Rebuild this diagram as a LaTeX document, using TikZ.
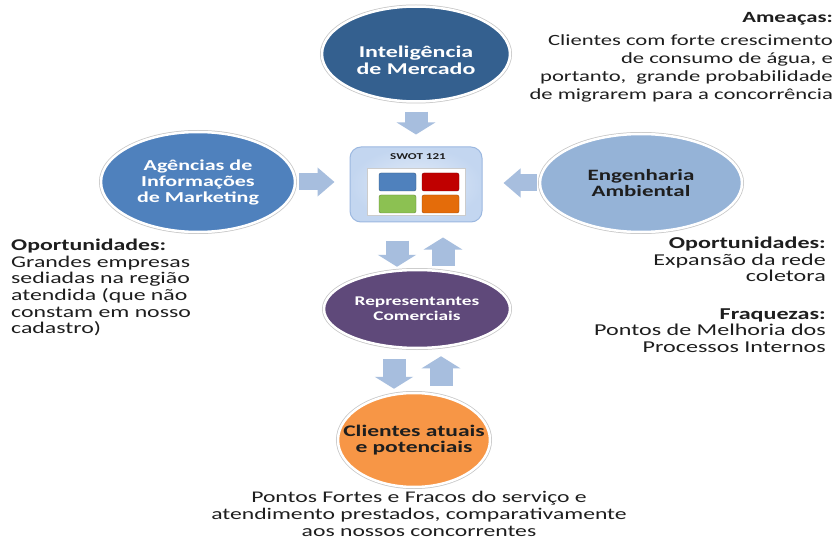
\documentclass[tikz,border=0pt]{standalone}
\usepackage{fontspec}
\setmainfont[FakeStretch=1.45]{Carlito}
\usetikzlibrary{arrows.meta}
\usetikzlibrary{shapes.geometric}

\definecolor{intelblue}{HTML}{34608F}
\definecolor{agblue}{HTML}{4F81BD}
\definecolor{engblue}{HTML}{95B3D7}
\definecolor{reppurple}{HTML}{5F497A}
\definecolor{cliorange}{HTML}{F79646}
\definecolor{arrowblue}{HTML}{A7BEDE}
\definecolor{txtgray}{HTML}{1E1E1E}
\definecolor{swotfill}{HTML}{C3D6F0}
\definecolor{swotline}{HTML}{9CB8E0}
\definecolor{qblue}{HTML}{4F81BD}
\definecolor{qred}{HTML}{C00000}
\definecolor{qgreen}{HTML}{8CC152}
\definecolor{qorange}{HTML}{E46C0A}

\begin{document}
\begin{tikzpicture}[x=1pt,y=-1pt,
    bubble/.style={ellipse, inner sep=0pt, draw=white, line width=2.5pt,
      preaction={draw=gray!45, line width=4pt}},
    bubbletext/.style={align=center, inner sep=0pt},
    vblock/.style={arrowblue, line width=23pt, -{Triangle[length=12pt 0 0, width=38pt 0 0]}},
    hblock/.style={arrowblue, line width=17pt, -{Triangle[length=17pt 0 0, width=28pt 0 0]}},
    note/.style={text=txtgray, inner sep=0pt}]

    \useasboundingbox[fill=white] (0,0) rectangle (835,540);

    % ellipses
    \node[bubble, fill=intelblue, minimum width=188, minimum height=95] (intel) at (416,54) {};
    \node[bubble, fill=agblue, minimum width=194, minimum height=100] (ag) at (198,182) {};
    \node[bubble, fill=engblue, minimum width=202, minimum height=98] (eng) at (641,183) {};
    \node[bubble, fill=reppurple, minimum width=186, minimum height=78] (rep) at (417,309) {};
    \node[bubble, fill=cliorange, minimum width=152, minimum height=94] (cli) at (414,440) {};

    % ellipse labels
    \node[bubbletext, text=white, font=\bfseries\fontsize{16.5}{17}\selectfont] (intelt) at ([yshift=-6pt]intel.center) {Inteligência\\de Mercado};
    \node[bubbletext, text=white, font=\bfseries\fontsize{15.2}{16}\selectfont] (agt) at (ag.center) {Agências de\\Informações\\de Marketing};
    \node[bubbletext, text=txtgray, font=\bfseries\fontsize{15.8}{15.5}\selectfont] (engt) at (eng.center) {Engenharia\\Ambiental};
    \node[bubbletext, text=white, font=\bfseries\fontsize{13.3}{15}\selectfont] (rept) at (rep.center) {Representantes\\Comerciais};
    \node[bubbletext, text=txtgray, font=\bfseries\fontsize{16.2}{16}\selectfont] (clit) at (cli.center) {Clientes atuais\\e potenciais};

    % swot box
    \node[draw=swotline, line width=1pt, rounded corners=11pt, inner color=swotfill!45, outer color=swotfill,
      minimum width=132, minimum height=75] (swot) at (416,184.5) {};
    \node[note, font=\bfseries\fontsize{9}{9}\selectfont] (swott) at (418,157) {SWOT 121};
    \draw[fill=white, draw=gray!40] (367,168) rectangle (465,215);
    \foreach \qx/\qy/\qc in {379/173/qblue, 422/173/qred, 379/195/qgreen, 422/195/qorange}
      \draw[fill=\qc, draw=\qc!70!black, rounded corners=2pt] (\qx,\qy) rectangle ++(37,18);

    % block arrows
    \draw[vblock] ([yshift=-9pt]intel.south) -- ([yshift=12pt]swot.north);
    \draw[hblock] ([xshift=3pt]ag.east) -- ([xshift=-15pt]swot.west |- ag.east);
    \draw[hblock] ([xshift=-2pt]eng.west) -- ([xshift=21pt]swot.east |- eng.west);
    \draw[vblock] ([xshift=-19pt,yshift=-18pt]swot.south) -- ([xshift=-19pt,yshift=2pt]swot.south |- rep.north);
    \draw[vblock] ([xshift=27pt,yshift=3pt]swot.south |- rep.north) -- ([xshift=27pt,yshift=-15pt]swot.south);
    \draw[vblock] ([xshift=-23pt,yshift=-10pt]rep.south) -- ([xshift=-23pt,yshift=3pt]rep.south |- cli.north);
    \draw[vblock] ([xshift=24pt,yshift=6pt]rep.south |- cli.north) -- ([xshift=24pt,yshift=-7pt]rep.south);

    % notes
    \node[note, anchor=north east, align=right, font=\fontsize{15.6}{18}\selectfont] (threat) at (833,12)
      {\textbf{Ameaças:}\\[5pt]Clientes com forte crescimento\\de consumo de água, e\\portanto,\ \ grande probabilidade\\de migrarem para a concorrência};
    \node[note, anchor=north west, align=left, font=\fontsize{16.4}{16.6}\selectfont] (opleft) at (11,239)
      {\textbf{Oportunidades:}\\Grandes empresas\\sediadas na região\\atendida (que não\\constam em nosso\\cadastro)};
    \node[note, anchor=north east, align=right, font=\fontsize{16.6}{16.5}\selectfont] (opright) at (826,237)
      {\textbf{Oportunidades:}\\Expansão da rede\\coletora\\[21pt]\textbf{Fraquezas:}\\Pontos de Melhoria dos\\Processos Internos};
    \node[note, anchor=north, align=center, font=\fontsize{16.3}{17}\selectfont] (strength) at (419,491)
      {Pontos Fortes e Fracos do serviço e\\atendimento prestados, comparativamente\\aos nossos concorrentes};
\end{tikzpicture}
\end{document}
